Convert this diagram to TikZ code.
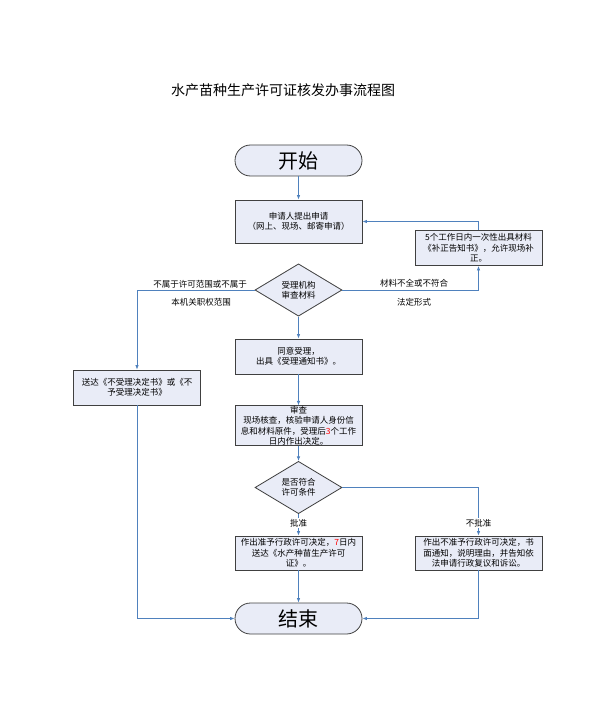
\documentclass[tikz,border=0pt]{standalone}
\usepackage{fontspec}
\setmainfont{Noto Sans CJK SC}
\usetikzlibrary{shapes.geometric,arrows.meta,calc}
\definecolor{boxfill}{HTML}{E9ECF7}
\definecolor{boxline}{HTML}{404040}
\definecolor{conn}{HTML}{4F81BD}
\tikzset{
  every node/.style={font=\fontsize{8.5}{10.5}\selectfont},
  box/.style={draw=boxline,fill=boxfill,line width=0.8pt,minimum width=127pt,inner sep=1pt,text width=124pt,align=center},
  pill/.style={draw=boxline,fill=boxfill,line width=0.8pt,rounded corners=15.5pt,minimum width=127pt,minimum height=31pt,inner sep=0pt,font=\fontsize{20}{22}\selectfont},
  dia/.style={draw=boxline,fill=boxfill,line width=0.8pt,diamond,minimum width=87pt,minimum height=41pt,inner sep=0pt,align=center},
  conn/.style={draw=conn,line width=0.8pt,-{Latex[length=4.5pt,width=3.5pt]}},
  lab/.style={inner sep=1pt},
  wlab/.style={fill=white,inner sep=1pt}
}
\begin{document}
\begin{tikzpicture}[x=1pt,y=-1pt]
\useasboundingbox (0,0) rectangle (597,722);
\node (title) at (283,90) {\fontsize{14}{16}\selectfont 水产苗种生产许可证核发办事流程图};
\node[pill] (start) at (298.5,160.5) {开始};
\node[box,minimum height=43pt] (b1) at (298.5,221.5) {申请人提出申请\\（网上、现场、邮寄申请）};
\node[box,minimum height=35pt] (rb) at (478.5,248) {5个工作日内一次性出具材料\\《补正告知书》，允许现场补\\正。};
\node[dia] (d1) at (298.5,290) {受理机构\\审查材料};
\node[box,minimum height=35pt] (lb) at (137,387.5) {送达《不受理决定书》或《不\\予受理决定书》};
\node[box,minimum height=35pt] (b3) at (298.5,356.5) {同意受理，\\出具《受理通知书》。};
\node[box,minimum height=39pt,inner sep=0pt] (b4) at (298.5,425.5) {审查\\现场核查，核验申请人身份信\\息和材料原件，受理后\textcolor{red}{3}个工作\\日内作出决定。};
\node[dia] (d2) at (298.5,487.5) {是否符合\\许可条件};
\node[box,minimum height=34pt] (b5) at (298.5,553) {作出准予行政许可决定，\textcolor{red}{7}日内\\送达《水产种苗生产许可\\证》。};
\node[box,minimum height=34pt] (b6) at (478.5,553) {作出不准予行政许可决定，书\\面通知，说明理由，并告知依\\法申请行政复议和诉讼。};
\node[pill] (end) at (298.5,618.5) {结束};

\draw[conn] (start) -- (b1);
\draw[conn] (rb.north) |- (b1.east);
\draw[conn] (d1.east) -| (rb.south);
\node[lab] (l1) at (414,283) {材料不全或不符合};
\node[lab] (l2) at (414,302) {法定形式};
\draw[conn] (d1.west) -| (lb.north);
\node[lab] (l3) at (200,284) {不属于许可范围或不属于};
\node[lab] (l4) at (201,302) {本机关职权范围};
\draw[conn] (d1) -- (b3);
\draw[conn] (b3) -- (b4);
\draw[conn] (b4) -- (d2);
\draw[conn] (d2) -- (b5);
\node[wlab] (l5) at (298.5,523) {批准};
\draw[conn] (d2.east) -| (b6.north);
\node[wlab] (l6) at (478.5,523) {不批准};
\draw[conn] (b5) -- (end);
\draw[conn] (b6.south) |- (end.east);
\draw[conn] (lb.south) |- (end.west);
\end{tikzpicture}
\end{document}
